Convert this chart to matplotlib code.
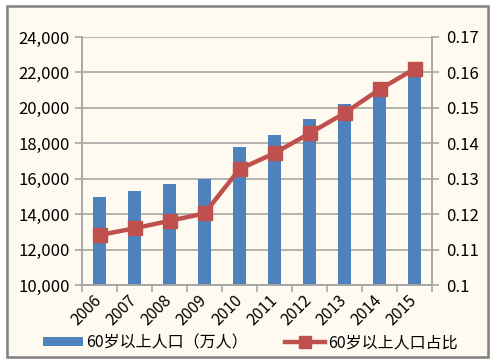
import matplotlib.pyplot as plt
import numpy as np
from matplotlib.patches import Rectangle
from matplotlib.lines import Line2D
from matplotlib.patches import Patch

plt.rcParams['font.family'] = ['Noto Sans CJK SC', 'DejaVu Sans']

years = ['2006', '2007', '2008', '2009', '2010', '2011', '2012', '2013', '2014', '2015']
pop_60 = [14960, 15330, 15680, 15990, 17780, 18470, 19370, 20220, 21000, 22050]
share_60 = [0.1141, 0.1160, 0.1181, 0.1202, 0.1327, 0.1372, 0.1428, 0.1485, 0.1552, 0.1610]

left_ticks = [10000, 12000, 14000, 16000, 18000, 20000, 22000, 24000]
right_ticks = [0.1, 0.11, 0.12, 0.13, 0.14, 0.15, 0.16, 0.17]
right_labels = ['0.1', '0.11', '0.12', '0.13', '0.14', '0.15', '0.16', '0.17']

bar_color = '#4F81BD'
line_color = '#C0504D'
bg = '#FEFAF0'
grid_gray = '#A6A6A6'

fig = plt.figure(figsize=(4.93, 3.62), dpi=100)
fig.patch.set_facecolor('white')
fig.patches.append(Rectangle((7 / 493, 5 / 362), 481 / 493, 351 / 362, transform=fig.transFigure,
                             facecolor=bg, edgecolor='#7F7F7F', linewidth=1.8, zorder=-5))

ax = fig.add_axes([82 / 493, 77 / 362, 350 / 493, 248 / 362])
ax.set_facecolor('none')
x = np.arange(len(years))
ax.bar(x, pop_60, width=0.38, color=bar_color, zorder=2)
ax.set_ylim(10000, 24000)
ax.set_xlim(-0.5, len(years) - 0.5)
ax.set_yticks(left_ticks)
ax.set_yticklabels([f'{v:,}' for v in left_ticks], fontsize=12)
ax.yaxis.grid(True, color=grid_gray, linewidth=1.2, zorder=0)
ax.set_axisbelow(True)

ax.set_xticks(x)
ax.set_xticklabels(years, rotation=45, fontsize=11.5, ha='right', va='center',
                   rotation_mode='anchor')
ax.tick_params(axis='x', which='major', length=0, pad=9)
ax.set_xticks(np.arange(len(years) + 1) - 0.5, minor=True)
ax.tick_params(axis='x', which='minor', length=5, color=grid_gray, width=1.2)
ax.tick_params(axis='y', length=5, color=grid_gray, width=1.2, pad=4)
ax.spines['top'].set_visible(False)
for s in ['left', 'right', 'bottom']:
    ax.spines[s].set_color(grid_gray)
    ax.spines[s].set_linewidth(1.2)

ax2 = ax.twinx()
ax2.plot(x, share_60, color=line_color, linewidth=3.2, marker='s', markersize=10.5, zorder=3)
ax2.set_ylim(0.1, 0.17)
ax2.set_yticks(right_ticks)
ax2.set_yticklabels(right_labels, fontsize=12)
ax2.tick_params(axis='y', length=5, color=grid_gray, width=1.2, pad=5)
ax2.spines['top'].set_visible(False)
for s in ['left', 'right', 'bottom']:
    ax2.spines[s].set_color(grid_gray)
    ax2.spines[s].set_linewidth(1.2)

handles = [Patch(facecolor=bar_color, edgecolor='none'),
           Line2D([0], [0], color=line_color, linewidth=3.2, marker='s', markersize=8)]
labels = ['60岁以上人口（万人）', '60岁以上人口占比']
fig.legend(handles, labels, loc='center left', bbox_to_anchor=(32 / 493, 19 / 362), ncol=2, frameon=False,
           fontsize=11.5, handlelength=2.5, handleheight=0.5, handletextpad=0.2, columnspacing=2.3,
           borderpad=0.2)

fig.savefig('out.png', dpi=100, facecolor=fig.get_facecolor())
